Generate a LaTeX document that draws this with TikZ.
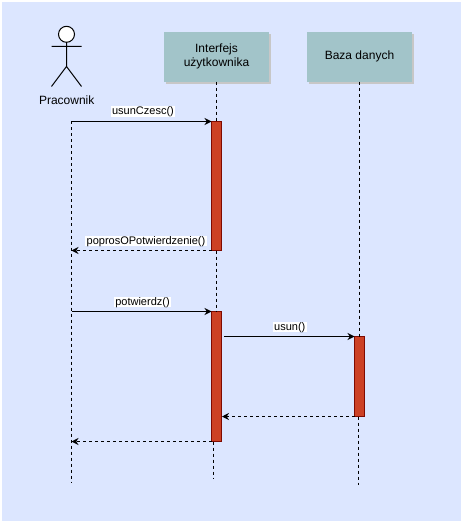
\documentclass[tikz,border=0pt]{standalone}
\usepackage{fontspec}
\setmainfont{Liberation Sans}
\usetikzlibrary{positioning, arrows.meta, shadows}
\definecolor{paper}{HTML}{DCE6FF}
\definecolor{boxfill}{HTML}{A2C4C9}
\definecolor{barfill}{HTML}{CC4125}
\definecolor{bardraw}{HTML}{7F0A00}

\begin{document}
\begin{tikzpicture}[
            x=1pt,
            y=-1pt,
            >={Stealth[length=7pt, width=7pt]},
            line width=1pt,
            lifeline/.style={dash pattern=on 3pt off 3pt},
            message/.style={->},
            reply/.style={->, dash pattern=on 3pt off 3pt},
            object/.style={fill=boxfill, minimum width=105pt, minimum height=50pt, inner sep=0pt, outer sep=0pt, align=center, font=\fontsize{12}{14}\selectfont, drop shadow={shadow xshift=2pt, shadow yshift=-2pt, fill=black!22, opacity=1}},
            bar/.style={draw=bardraw, fill=barfill, minimum width=10pt, inner sep=0pt, outer sep=0pt, anchor=north},
            msglabel/.style={fill=white, inner xsep=1.5pt, inner ysep=0pt, text height=8.5pt, text depth=2pt, font=\fontsize{11}{13}\selectfont},
        ]
            \useasboundingbox (0,0) rectangle (463,526);
            \fill[paper] (2,2) rectangle (461,521);

            % Draw the objects and the actor
            \node[object] (O-0) at (216.5,56.7) {Interfejs\\użytkownika};
            \node[object] (O-1) at (359.5,56.7) {Baza danych};
            \node[circle, draw, fill=white, minimum size=16pt, inner sep=0pt, outer sep=0pt] (head) at (66.5,34.3) {};
            \node[font=\fontsize{12}{15}\selectfont] (actor) at (66.7,100) {Pracownik};
            \coordinate (hip) at (66.5,66.5);
            \coordinate (arm-l) at (51.5,46.5);
            \coordinate (arm-r) at (81.5,46.5);
            \coordinate (leg-l) at (51.5,86.5);
            \coordinate (leg-r) at (81.5,86.5);
            \draw (head) -- (hip) (arm-l) -- (arm-r) (leg-l) -- (hip) -- (leg-r);

            % Points on the lifelines
            \foreach \name / \y in {0/121.5,1/250.5,2/311.5,3/441.5,4/482}
                \coordinate (L-\name) at (71.5,\y);
            \coordinate (F-0) at (213.5,441.5);
            \coordinate (E-0) at (213.5,478);
            \coordinate (F-1) at (358.5,416.5);
            \coordinate (E-1) at (358.5,485);
            \coordinate (S-0) at (224,336.5);
            \coordinate (S-1) at (222,416.5);

            % Draw the activation bars
            \node[bar, minimum height=129pt] (B-0) at (216.5,121.5) {};
            \node[bar, minimum height=130pt] (B-1) at (216.5,311.5) {};
            \node[bar, minimum height=80pt] (B-2) at (359.5,336.5) {};

            % Draw the lifelines
            \draw[lifeline] (L-0) -- (L-4);
            \draw[lifeline] (O-0) -- (B-0);
            \draw[lifeline] (B-0.south) -- (B-1.north);
            \draw[lifeline] (F-0) -- (E-0);
            \draw[lifeline] (O-1) -- (B-2);
            \draw[lifeline] (F-1) -- (E-1);

            % Connect the lifelines with the bars
            \draw[message] (L-0) -- node[msglabel, above=4pt, xshift=1.5pt] {usunCzesc()} (B-0.north west);
            \draw[reply] (B-0.south west) -- node[msglabel, above=4pt, xshift=4.5pt] {poprosOPotwierdzenie()} (L-1);
            \draw[message] (L-2) -- node[msglabel, above=4pt, xshift=1pt] {potwierdz()} (B-1.north west);
            \draw[message] (S-0) -- node[msglabel, above=4pt, xshift=0.5pt] {usun()} (B-2.north west);
            \draw[reply] (B-2.south west) -- (S-1);
            \draw[reply] (B-1.south west) -- (L-3);
        \end{tikzpicture}
\end{document}
